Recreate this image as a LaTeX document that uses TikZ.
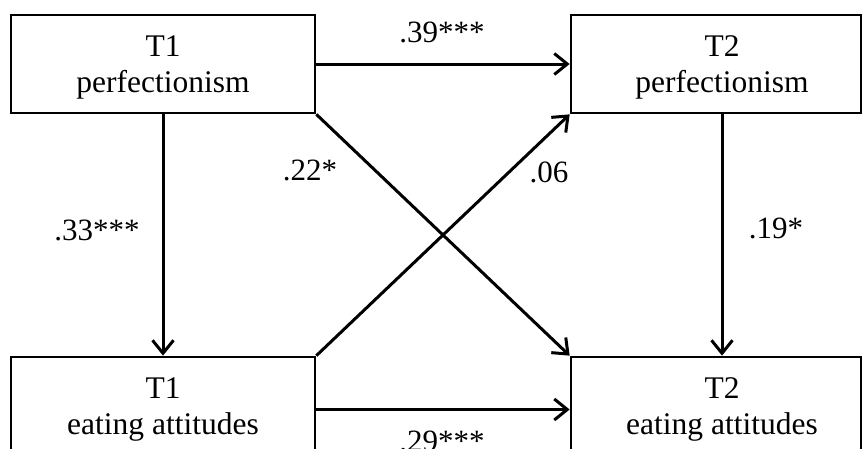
\documentclass[tikz,border=0pt]{standalone}
\usepackage{fontspec}
\setmainfont{Liberation Serif}
\usetikzlibrary{arrows.meta}
\begin{document}
\begin{tikzpicture}[x=1pt,y=-1pt,
  box/.style={draw, line width=2.7pt, minimum width=#1, minimum height=98pt, inner sep=0pt},
  txt/.style={font=\fontsize{31.5pt}{36pt}\selectfont, align=center, inner sep=0pt},
  coef/.style={font=\fontsize{31pt}{36pt}\selectfont, inner sep=0pt, anchor=base},
  arr/.style={line width=3pt, -{Straight Barb[length=13pt, width=21pt]}}]
\useasboundingbox (0,0) rectangle (862,448);
\clip (0,0) rectangle (862,448);

% variable boxes
\node[box=304pt] (t1p) at (163,64) {};
\node[box=290pt] (t2p) at (716,64) {};
\node[box=304pt] (t1e) at (163,406) {};
\node[box=290pt] (t2e) at (716,406) {};

% box captions
\node[txt] (t1pt) at (163,67) {T1\\perfectionism};
\node[txt] (t2pt) at (722,67) {T2\\perfectionism};
\node[txt] (t1et) at (163,409) {T1\\eating attitudes};
\node[txt] (t2et) at (722,409) {T2\\eating attitudes};

% paths
\draw[arr] (t1p.east) -- (t2p.west);
\draw[arr] (t1p.south) -- (t1e.north);
\draw[arr] (t2pt.center |- t2p.south) -- (t2pt.center |- t2e.north);
\draw[arr] (t1p.south east) -- (t2e.north west);
\draw[arr] (t1e.north east) -- (t2p.south west);
\draw[arr] ([yshift=-3.5pt]t1e.east) -- ([yshift=-3.5pt]t2e.west);

% path coefficients
\node[coef] (c1) at (442,42) {.39***};
\node[coef] (c2) at (97,240) {.33***};
\node[coef] (c3) at (310,180) {.22*};
\node[coef] (c4) at (549,182) {.06};
\node[coef] (c5) at (776,238) {.19*};
\node[coef] (c6) at (442,451) {.29***};
\end{tikzpicture}
\end{document}
